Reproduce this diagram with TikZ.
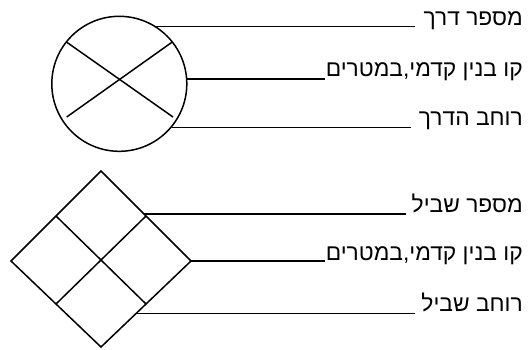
\documentclass[tikz,border=0pt]{standalone}
\usepackage{fontspec}
\setmainfont{Liberation Sans}
\newfontfamily\hebfont[Script=Hebrew]{Liberation Sans}
\TeXXeTstate=1
\usetikzlibrary{calc}
\begin{document}
\begin{tikzpicture}[x=1pt,y=-1pt,
  shape line/.style={line width=1.5pt,line join=miter},
  leader/.style={line width=1.6pt},
  lbl/.style={anchor=base east,inner sep=0pt,font=\hebfont\fontsize{22.8}{26}\selectfont}]
\useasboundingbox (0,0) rectangle (529,349);
% ---- circle symbol ----
\node[shape line,draw,circle,minimum size=135pt,inner sep=0pt] (C) at (119.3,83.8) {};
\coordinate (x1) at (66,41.7);
\coordinate (x2) at (173,117);
\coordinate (x3) at (172.7,41.7);
\coordinate (x4) at (66.7,117);
\draw[shape line] (x1) -- (x2);
\draw[shape line] (x3) -- (x4);
% ---- diamond symbol ----
\coordinate (dT) at (101,171);
\coordinate (dR) at (191,261);
\coordinate (dB) at (101,347);
\coordinate (dL) at (11,261);
\draw[shape line] (dT) -- (dR) -- (dB) -- (dL) -- cycle;
\draw[shape line] ($(dL)!0.5!(dT)$) -- ($(dR)!0.5!(dB)$);
\draw[shape line] ($(dT)!0.5!(dR)$) -- ($(dB)!0.5!(dL)$);
% ---- labels ----
\node[lbl] (t1) at (523,25)  {\beginR מספר דרך\endR};
\node[lbl] (t2) at (523,76)  {\beginR קו בנין קדמי,במטרים\endR};
\node[lbl] (t3) at (523,125) {\beginR רוחב הדרך\endR};
\node[lbl] (t4) at (523,212) {\beginR מספר שביל\endR};
\node[lbl] (t5) at (523,260) {\beginR קו בנין קדמי,במטרים\endR};
\node[lbl] (t6) at (523,311) {\beginR רוחב שביל\endR};
% ---- leaders ----
\coordinate (s1) at (C.57);
\coordinate (s2) at (C.4.7);
\coordinate (s3) at (C.-40);
\coordinate (s4) at ($(dT)!0.478!(dR)$);
\coordinate (s5) at (dR);
\coordinate (s6) at ($(dR)!0.61!(dB)$);
\draw[leader] (s1) -- ($(s1 -| t1.west)+(-8,0)$);
\draw[leader] (s2) -- ($(s2 -| t2.west)+(-1,0)$);
\draw[leader] (s3) -- ($(s3 -| t3.west)+(-8,0)$);
\draw[leader] (s4) -- ($(s4 -| t4.west)+(-6,0)$);
\draw[leader] (s5) -- ($(s5 -| t5.west)+(-1,0)$);
\draw[leader] (s6) -- ($(s6 -| t6.west)+(-6,0)$);
\end{tikzpicture}
\end{document}
